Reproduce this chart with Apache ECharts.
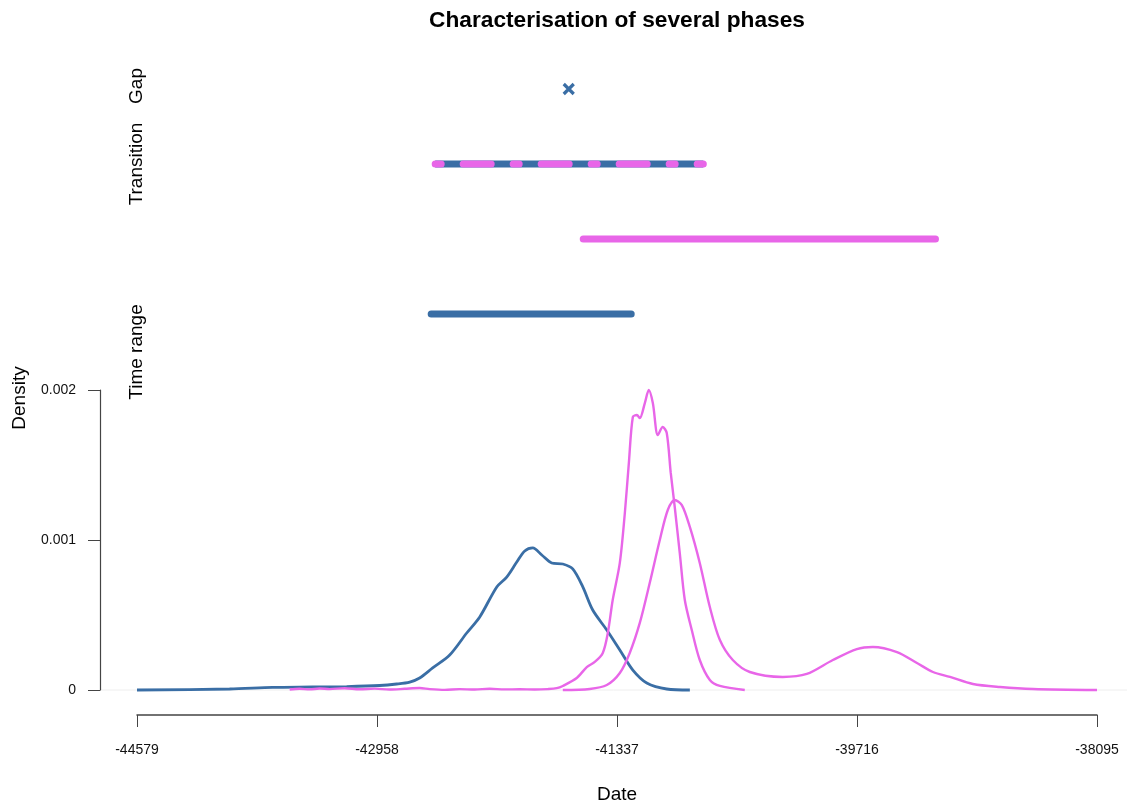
<!DOCTYPE html>
<html>
<head>
<meta charset="utf-8">
<script src="https://cdn.jsdelivr.net/npm/echarts@6/dist/echarts.min.js"></script>
<style>
  html, body { margin: 0; padding: 0; background: #ffffff; }
  #chart { width: 1127px; height: 807px; }
</style>
</head>
<body>
<div id="chart"></div>
<script>
// Axis ticks
const xTicks = [-44579, -42958, -41337, -39716, -38095];
const yTicks = [0, 0.001, 0.002];

// Phase 1 density (blue)
const phase1Dates = [-44579, -43954, -43663, -43393, -43163, -42940, -42825, -42737, -42670, -42582,
  -42467, -42352, -42264, -42149, -42082, -42014, -41960, -41906, -41845, -41778,
  -41703, -41636, -41568, -41501, -41406, -41318, -41230, -41136, -41001, -40845];
const phase1Density = [0, 0.0000067, 0.000017, 0.00002, 0.000023, 0.00003, 0.00004, 0.000053, 0.00008, 0.000147,
  0.000233, 0.00038, 0.000487, 0.000687, 0.000753, 0.000853, 0.000927, 0.000947, 0.0009, 0.000847,
  0.00084, 0.000807, 0.000687, 0.000533, 0.0004, 0.000267, 0.000133, 0.000047, 0.0000067, 0];

// Phase 2 density, narrow curve (pink)
const phase2aDates = [-43548, -43481, -43413, -43346, -43278, -43177, -43075, -42974, -42873, -42771,
  -42670, -42602, -42501, -42400, -42298, -42197, -42095, -41994, -41893, -41805, -41744,
  -41703, -41609, -41541, -41487, -41433, -41399, -41366, -41318, -41284, -41257,
  -41230, -41203, -41183, -41149, -41122, -41095, -41061, -41028, -41001, -40974,
  -40947, -40913, -40879, -40832, -40778, -40710, -40642, -40474];
const phase2aDensity = [0.000003, 0.000008, 0.000004, 0.00001, 0.000006, 0.000012, 0.000005, 0.000009, 0.000003, 0.000008,
  0.000013, 0.000006, 0.000001, 0.000006, 0.000003, 0.000008, 0.000004, 0.000005, 0.000003, 0.000006, 0.000012,
  0.000027, 0.00008, 0.000153, 0.000187, 0.000247, 0.00038, 0.0006, 0.000847, 0.00118, 0.001513,
  0.00182, 0.001833, 0.001813, 0.001913, 0.002, 0.001913, 0.0017, 0.001753, 0.001713, 0.001447,
  0.00122, 0.000913, 0.0006, 0.0004, 0.0002, 0.000067, 0.000027, 0];

// Phase 2 density, wide curve (pink)
const phase2bDates = [-41703, -41521, -41406, -41318, -41251, -41183, -41116, -41048, -40994, -40947,
  -40899, -40845, -40778, -40710, -40642, -40555, -40440, -40217, -40055, -39879,
  -39717, -39609, -39446, -39311, -39203, -39088, -38933, -38750, -38527, -38095];
const phase2bDensity = [0, 0.0000067, 0.000033, 0.000113, 0.000247, 0.000447, 0.000713, 0.001, 0.0012, 0.001267,
  0.001233, 0.001087, 0.000847, 0.000553, 0.000333, 0.0002, 0.00012, 0.000087, 0.000107, 0.0002,
  0.000273, 0.000287, 0.000253, 0.00018, 0.00012, 0.000087, 0.00004, 0.00002, 0.0000067, 0];

// Upper panel rows (bottom to top) and their intervals
const rowNames = ['Phase 1', 'Phase 2', 'Transition', 'Gap'];
const phase1Range = [-42592, -41241];
const phase2Range = [-41565, -39186];
const transitionRange = [-42565, -40754];
const gapDates = [-41663];

const BLUE = '#3A6EA5';
const PINK = '#E866E8';
const AXIS = '#444444';
const FONT = 'Liberation Sans, Arial, Helvetica, sans-serif';

const pairs = (xs, ys) => xs.map((x, i) => [x, ys[i]]);
const rangeLine = (range, row) => range.map(x => [x, row]);

const chart = echarts.init(document.getElementById('chart'), null, { renderer: 'canvas' });

const option = {
  animation: false,
  backgroundColor: '#ffffff',
  textStyle: { fontFamily: FONT },
  title: {
    text: 'Characterisation of several phases',
    left: 617,
    textAlign: 'center',
    top: 9,
    padding: 0,
    textStyle: { fontFamily: FONT, fontSize: 22.7, fontWeight: 'bold', color: '#000' }
  },
  grid: [
    { left: 137, right: 30, top: 390, bottom: 117 },
    { left: 137, right: 30, top: 51.5, height: 300 }
  ],
  xAxis: [
    {
      gridIndex: 0, type: 'value',
      min: xTicks[0], max: xTicks[xTicks.length - 1],
      interval: xTicks[1] - xTicks[0],
      offset: 25,
      name: 'Date', nameLocation: 'middle', nameGap: 70,
      nameTextStyle: { fontFamily: FONT, fontSize: 19, color: '#000' },
      axisLine: { show: true, onZero: false, lineStyle: { color: AXIS, width: 1.5 } },
      axisTick: { show: true, length: 12, lineStyle: { color: AXIS, width: 1 } },
      axisLabel: {
        fontFamily: FONT, fontSize: 14, color: '#111', margin: 28,
        formatter: v => String(Math.round(v)),
        showMinLabel: true, showMaxLabel: true
      },
      splitLine: { show: false }
    },
    {
      gridIndex: 1, type: 'value',
      min: xTicks[0], max: xTicks[xTicks.length - 1],
      show: false
    }
  ],
  yAxis: [
    {
      gridIndex: 0, type: 'value',
      min: yTicks[0], max: yTicks[yTicks.length - 1],
      interval: yTicks[1] - yTicks[0],
      offset: 37,
      axisLine: { show: true, onZero: false, lineStyle: { color: AXIS, width: 1.2 } },
      axisTick: { show: true, length: 12, lineStyle: { color: AXIS, width: 1 } },
      axisLabel: {
        fontFamily: FONT, fontSize: 14, color: '#111', margin: 24,
        formatter: v => (v === 0 ? '0' : v.toFixed(3))
      },
      splitLine: { show: false }
    },
    {
      gridIndex: 1, type: 'category', data: rowNames, show: false
    }
  ],
  graphic: [
    {
      id: 'lblGap', type: 'text', x: 137, y: 86, rotation: Math.PI / 2,
      style: { text: 'Gap', font: '19px ' + FONT, fill: '#000', align: 'center', verticalAlign: 'middle' }
    },
    {
      id: 'lblTransition', type: 'text', x: 137, y: 164, rotation: Math.PI / 2,
      style: { text: 'Transition', font: '19px ' + FONT, fill: '#000', align: 'center', verticalAlign: 'middle' }
    },
    {
      id: 'lblRange', type: 'text', x: 137, y: 352, rotation: Math.PI / 2,
      style: { text: 'Time range', font: '19px ' + FONT, fill: '#000', align: 'center', verticalAlign: 'middle' }
    },
    {
      id: 'lblDensity', type: 'text', x: 20, y: 398, rotation: Math.PI / 2,
      style: { text: 'Density', font: '19px ' + FONT, fill: '#000', align: 'center', verticalAlign: 'middle' }
    }
  ],
  series: [
    {
      name: 'Phase 1 density', type: 'line', xAxisIndex: 0, yAxisIndex: 0,
      data: pairs(phase1Dates, phase1Density),
      showSymbol: false, smooth: 0.3, clip: false,
      lineStyle: { color: BLUE, width: 2.8 }, z: 3
    },
    {
      name: 'Phase 2 density A', type: 'line', xAxisIndex: 0, yAxisIndex: 0,
      data: pairs(phase2aDates, phase2aDensity),
      showSymbol: false, smooth: 0.3, clip: false,
      lineStyle: { color: PINK, width: 2.4 }, z: 3
    },
    {
      name: 'Phase 2 density B', type: 'line', xAxisIndex: 0, yAxisIndex: 0,
      data: pairs(phase2bDates, phase2bDensity),
      showSymbol: false, smooth: 0.3, clip: false,
      lineStyle: { color: PINK, width: 2.4 }, z: 3
    },
    {
      name: 'Phase 1 range', type: 'line', xAxisIndex: 1, yAxisIndex: 1,
      data: rangeLine(phase1Range, rowNames[0]),
      showSymbol: false, clip: false,
      lineStyle: { color: BLUE, width: 7, cap: 'round' }
    },
    {
      name: 'Phase 2 range', type: 'line', xAxisIndex: 1, yAxisIndex: 1,
      data: rangeLine(phase2Range, rowNames[1]),
      showSymbol: false, clip: false,
      lineStyle: { color: PINK, width: 7, cap: 'round' }
    },
    {
      name: 'Transition base', type: 'line', xAxisIndex: 1, yAxisIndex: 1,
      data: rangeLine(transitionRange, rowNames[2]),
      showSymbol: false, clip: false,
      lineStyle: { color: BLUE, width: 7, cap: 'butt' }, z: 3
    },
    {
      name: 'Transition dash', type: 'line', xAxisIndex: 1, yAxisIndex: 1,
      data: rangeLine(transitionRange, rowNames[2]),
      showSymbol: false, clip: false,
      lineStyle: { color: PINK, width: 7, cap: 'round', type: [6, 22, 28, 22] }, z: 4
    },
    {
      name: 'Gap', type: 'scatter', xAxisIndex: 1, yAxisIndex: 1,
      data: gapDates.map(x => [x, rowNames[3]]),
      symbol: 'path://M0,0L10,10M10,0L0,10',
      symbolSize: 10,
      itemStyle: { color: 'none', borderColor: BLUE, borderWidth: 3.2, opacity: 1 },
      emphasis: { disabled: true }, clip: false, z: 4
    }
  ]
};

chart.setOption(option);

// Faint horizontal reference at zero density, running across the whole plot area
const zeroY = chart.convertToPixel({ xAxisIndex: 0, yAxisIndex: 0 }, [xTicks[0], 0])[1];
chart.setOption({
  graphic: [{
    id: 'zeroLine', type: 'line', z: 0, silent: true,
    shape: { x1: 100, y1: zeroY, x2: 1127, y2: zeroY },
    style: { stroke: '#eeeeee', lineWidth: 1 }
  }]
});
</script>
</body>
</html>
